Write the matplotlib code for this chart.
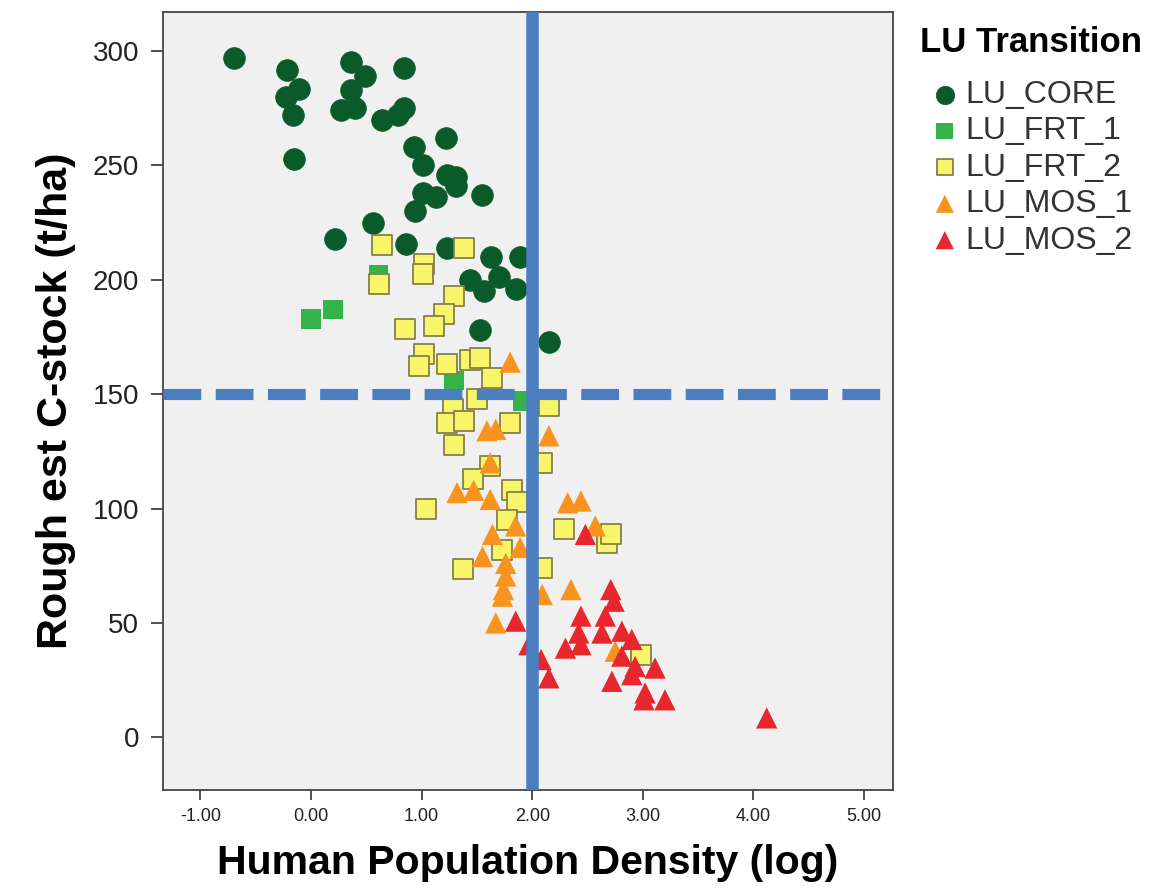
import matplotlib.pyplot as plt

# LU_CORE
core_x = [-0.70, -0.22, -0.11, -0.23, -0.16, -0.15, 0.36, 0.49, 0.36, 0.27, 0.40, 0.84, 0.64, 0.79, 0.84,
          0.93, 1.01, 1.01, 0.94, 0.56, 0.22, 0.86, 1.22, 1.23, 1.31, 1.31, 1.55, 1.13, 1.23, 1.63, 1.89,
          1.44, 1.70, 1.56, 1.85, 1.53, 2.15]
core_y = [297, 291.6, 283.5, 280, 272, 253, 295, 289, 283, 274, 275, 292.6, 270, 272, 275,
          258, 250, 238, 230, 225, 218, 215.6, 262, 246, 245, 241, 237, 236, 214, 210, 210,
          200, 201, 195, 196, 178, 172.6]

# LU_FRT_1
frt1_x = [0.00, 0.20, 0.61, 1.29, 1.92]
frt1_y = [183, 187, 202, 156, 147]

# LU_FRT_2
frt2_x = [0.64, 1.38, 1.02, 0.61, 1.01, 1.29, 1.20, 1.11, 0.85, 1.02, 0.98, 1.23, 1.44, 1.53, 1.64,
          1.50, 2.15, 1.28, 1.23, 1.38, 1.80, 1.29, 2.09, 1.62, 1.46, 1.82, 1.86, 1.04, 2.29, 2.68,
          2.71, 1.77, 1.73, 1.37, 2.09, 2.98]
frt2_y = [215, 214, 207, 198, 202.5, 193, 185, 180, 178.4, 167.5, 162.4, 163, 165, 166, 157,
          148, 145, 143.5, 137.6, 138.3, 137.6, 128, 120, 118.6, 112.8, 108, 103, 100, 91, 85,
          88.7, 95, 82, 73.4, 74, 36]

# LU_MOS_1
mos1_x = [1.80, 1.59, 1.67, 2.15, 1.62, 1.32, 1.47, 1.62, 2.32, 2.44, 2.57, 1.85, 1.64, 1.55, 1.89,
          1.76, 1.76, 1.74, 1.73, 2.35, 2.09, 1.67, 2.75]
mos1_y = [164, 134, 134.6, 131.8, 120, 107, 108, 104, 102.5, 103.3, 92.4, 92.4, 88.7, 79, 83,
          76, 70.5, 64.6, 61.7, 64.6, 62.4, 50, 37.6]

# LU_MOS_2
mos2_x = [2.48, 2.71, 2.74, 1.85, 2.44, 2.42, 2.30, 2.44, 2.66, 2.63, 2.81, 2.90, 1.97, 2.08, 2.15,
          2.81, 2.93, 3.11, 2.90, 2.72, 3.02, 3.01, 3.20, 4.12]
mos2_y = [88.7, 64.6, 59.5, 50.8, 53, 45.6, 39, 40.5, 53, 45.6, 46.4, 42.8, 40.5, 34, 26,
          35.5, 31, 30.3, 27.4, 24.5, 19.4, 16.4, 16.4, 8.5]

x_ticks = [-1, 0, 1, 2, 3, 4, 5]
y_ticks = [0, 50, 100, 150, 200, 250, 300]

plt.rcParams['font.family'] = ['Liberation Sans', 'DejaVu Sans']

fig = plt.figure(figsize=(11.55, 8.91), dpi=100)
ax = fig.add_axes([0.141, 0.1134, 0.632, 0.873])
ax.set_facecolor("#f0f0f0")

ax.scatter(core_x, core_y, s=245, marker="o", color="#0b5a2a", edgecolors="#0b5a2a", linewidths=0.5,
           label="LU_CORE", zorder=3)
ax.scatter(frt1_x, frt1_y, s=205, marker="s", color="#34b34a", edgecolors="none",
           label="LU_FRT_1", zorder=3)
ax.scatter(frt2_x, frt2_y, s=195, marker="s", color="#f8f56a", edgecolors="#85804a", linewidths=1.3,
           label="LU_FRT_2", zorder=3)
ax.scatter(mos1_x, mos1_y, s=235, marker="^", color="#f7931e", edgecolors="none",
           label="LU_MOS_1", zorder=3)
ax.scatter(mos2_x, mos2_y, s=235, marker="^", color="#e8262d", edgecolors="none",
           label="LU_MOS_2", zorder=3)

ax.axvline(2.0, color="#4a7ebf", linewidth=9, zorder=4)
ax.axhline(150, color="#4a7ebf", linewidth=8, dashes=(3.4, 1.3), zorder=4)

ax.set_xlim(-1.34, 5.26)
ax.set_ylim(-23, 317)
ax.set_xticks(x_ticks)
ax.set_xticklabels(["%.2f" % v for v in x_ticks], fontsize=13, color="#222222")
ax.set_yticks(y_ticks)
ax.set_yticklabels([str(v) for v in y_ticks], fontsize=20, color="#222222")
ax.tick_params(axis="x", length=7, width=1.2, color="#333333", pad=6)
ax.tick_params(axis="y", length=9, width=1.2, color="#333333", pad=8)
for sp in ax.spines.values():
    sp.set_color("#444444")
    sp.set_linewidth(1.3)

ax.set_xlabel("Human Population Density (log)", fontsize=29.5, fontweight="bold", labelpad=14)
ax.set_ylabel("Rough est C-stock (t/ha)", fontsize=31, fontweight="bold", labelpad=12)

fig.text(920 / 1155, 1 - 42 / 891, "LU Transition", fontsize=25, fontweight="bold", va="center")
leg = fig.legend(loc="upper left", bbox_to_anchor=(932 / 1155, 1 - 80 / 891), frameon=False,
                 fontsize=23, handlelength=0.8, handletextpad=0.25, labelspacing=0.2,
                 borderpad=0, borderaxespad=0, markerscale=0.85)
for t in leg.get_texts():
    t.set_color("#333333")

fig.savefig("out.png", dpi=100)
